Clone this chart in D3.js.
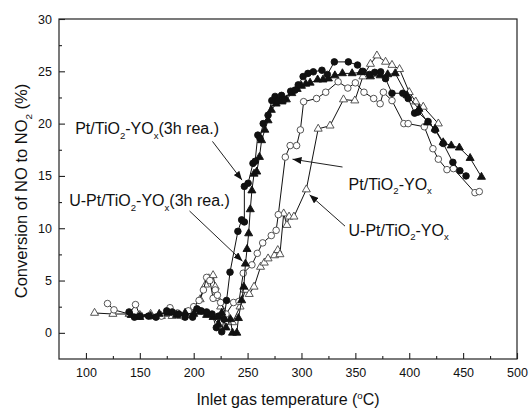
<!DOCTYPE html>
<html>
<head>
<meta charset="utf-8">
<script src="https://cdn.jsdelivr.net/npm/d3@7"></script>
<style>
  html, body { margin: 0; padding: 0; background: #fff; }
  svg { display: block; font-family: Arial, "Liberation Sans", sans-serif; }
</style>
</head>
<body>
<svg id="chart" width="530" height="411"></svg>
<script>
// =========================================
// NO -> NO2 CONVERSION vs INLET TEMPERATURE
// =========================================

// [temperature °C, conversion %]
const ptRea = [ // Pt/TiO2-YOx (3h rea.) – filled circles
  [140, 2.0], [145, 1.5], [150, 1.6], [158, 1.6], [165, 1.5], [175, 2.1], [180, 2.0],
  [186, 1.8], [192, 1.5], [199, 1.5], [203, 2.3], [207, 2.1], [212, 2.0], [217, 1.8],
  [221, 0.5], [223, 1.6], [226, 0.1], [228, 1.3], [230.5, 3.1], [233.7, 5.8], [241, 9.7],
  [244.5, 10.8], [247, 10.6], [247, 14.0], [250.5, 14.3], [255, 16.2], [257, 16.4],
  [259.5, 18.9], [261.5, 18.6], [264.5, 20.0], [269, 20.8], [272.5, 22.2], [275.5, 22.6],
  [278, 22.2], [281.5, 22.7], [284, 22.3], [290, 23.1], [294, 23.2], [297, 23.7],
  [301.5, 24.5], [306, 24.8], [311, 24.95], [319, 25.1], [324, 24.7], [330.5, 25.9],
  [343.5, 25.9], [352, 25.6], [357, 25.0], [363, 24.7], [368, 24.9], [373.5, 24.95],
  [378, 24.3], [384, 22.9], [394, 22.9], [399, 22.4], [405, 21.0], [408, 21.1],
  [417.5, 20.2], [424, 19.4], [431.5, 18.1], [440.5, 16.3], [447, 15.5], [452.7, 15.0]
];

const uptRea = [ // U-Pt/TiO2-YOx (3h rea.) – filled triangles
  [142, 1.7], [150, 1.5], [160, 1.6], [168, 1.8], [176, 1.9], [184, 1.7], [192, 1.9],
  [200, 1.8], [206, 2.0], [212, 1.7], [218, 1.5], [223, 0.8], [226, 1.9], [230, 0.5],
  [234, 1.3], [236, 0.0], [240, 0.0], [241.5, 1.4], [244.5, 3.1], [246.5, 4.4],
  [248, 6.6], [249.5, 8.0], [251, 9.5], [252.5, 11.8], [254, 13.6], [256, 15.2],
  [258.5, 15.4], [261, 16.8], [263, 18.4], [266, 19.4], [269, 20.3], [272, 21.3],
  [276.5, 21.9], [282, 22.1], [286, 22.3], [291, 22.9], [296, 23.3], [300, 23.6],
  [304, 23.8], [308, 23.9], [315, 24.2], [320, 24.2], [325, 24.3], [331, 24.6],
  [338, 24.8], [347, 24.8], [355, 24.9], [364, 24.5], [373, 24.6], [380, 24.7],
  [387, 24.8], [398, 22.7], [409, 21.4], [417, 20.1], [424, 19.5], [431.5, 18.2],
  [439, 17.9], [446.5, 17.7], [456.5, 16.7], [467, 14.9]
];

const pt = [ // Pt/TiO2-YOx – open circles
  [120, 2.8], [126, 2.2], [140, 1.8], [146, 2.7], [150, 1.7], [160, 1.6], [170, 1.6],
  [178, 2.4], [185, 1.9], [190, 1.6], [195, 2.1], [200, 2.5], [205, 3.1], [209, 4.1],
  [212, 5.3], [215, 5.0], [218, 3.3], [220, 4.1], [222, 3.6], [225, 2.9], [230, 1.8],
  [237, 2.9], [242, 3.0], [246, 5.7], [254, 6.5], [259, 7.6], [264, 8.6], [272, 9.3],
  [276.5, 9.8], [278.5, 11.3], [285, 16.8], [289.5, 17.9], [295.5, 17.9], [299, 19.4],
  [302, 22.1], [314, 22.4], [322.5, 23.0], [334, 24.0], [343, 23.4], [350, 23.9],
  [358, 23.0], [367, 22.4], [373, 21.9], [376, 23.0], [384, 22.2], [395, 20.0],
  [399, 20.0], [414, 19.7], [422, 17.6], [427, 16.6], [435, 15.6], [441, 15.7],
  [461, 13.4], [465, 13.5]
];

const upt = [ // U-Pt/TiO2-YOx – open triangles
  [108, 1.9], [125, 1.8], [140, 1.8], [150, 1.7], [160, 1.8], [170, 1.6], [180, 1.6],
  [188, 1.6], [195, 2.0], [200, 2.4], [206, 3.2], [211, 4.6], [214, 5.2], [218, 5.5],
  [220, 4.4], [222, 3.3], [225, 2.5], [230, 1.5], [236, 1.0], [243, 2.5], [248, 4.1],
  [251.5, 3.7], [256, 4.4], [262, 6.3], [265.5, 6.7], [269, 7.1], [275, 7.4], [278, 7.9],
  [280, 7.5], [283.5, 11.4], [286.5, 10.3], [288.5, 11.1], [293, 11.1], [304.5, 13.7],
  [315.5, 19.5], [326.5, 19.8], [339, 22.3], [349.5, 22.2], [357, 24.5], [364, 25.7],
  [370, 26.5], [378, 25.9], [384, 25.6], [391, 25.2], [400, 23.0], [406, 22.1],
  [413, 21.6], [427, 20.0]
];

const xTicks = [100, 150, 200, 250, 300, 350, 400, 450, 500];
const xMinorTicks = [125, 175, 225, 275, 325, 375, 425, 475];
const yTicks = [0, 5, 10, 15, 20, 25, 30];
const yMinorTicks = [2.5, 7.5, 12.5, 17.5, 22.5, 27.5];

// label pieces: [text, "sub" | "sup" | undefined]
const labelPtRea = [["Pt/TiO"], ["2", "sub"], ["-YO"], ["x", "sub"], ["(3h rea.)"]];
const labelUptRea = [["U-Pt/TiO"], ["2", "sub"], ["-YO"], ["x", "sub"], ["(3h rea.)"]];
const labelPt = [["Pt/TiO"], ["2", "sub"], ["-YO"], ["x", "sub"]];
const labelUpt = [["U-Pt/TiO"], ["2", "sub"], ["-YO"], ["x", "sub"]];
const xTitle = [["Inlet gas temperature ("], ["o", "sup"], ["C)"]];
const yTitle = [["Conversion of NO to NO"], ["2", "sub"], [" (%)"]];


// =========================
// HELPERS
// =========================

function richText(g, x, y, parts, size) {
  const text = g.append("text")
    .attr("x", x)
    .attr("y", y)
    .style("font-size", size + "px")
    .style("fill", "#111");

  let back = 0; // offset to undo after a sub/sup piece
  parts.forEach(([str, kind]) => {
    const span = text.append("tspan").text(str);
    if (!kind) {
      if (back) span.attr("dy", back);
      back = 0;
      return;
    }
    const shift = kind === "sub" ? size * 0.3 : -size * 0.4;
    span.attr("dy", shift + back).style("font-size", (size * 0.6) + "px");
    back = -shift;
  });
  return text;
}


// =========================
// AXES & FRAME
// =========================

function drawAxes(svg, x, y) {
  const [x0, x1] = x.range();
  const [y0, y1] = y.range();

  svg.append("rect")
    .attr("x", x0)
    .attr("y", y1)
    .attr("width", x1 - x0)
    .attr("height", y0 - y1)
    .attr("fill", "none")
    .attr("stroke", "#222")
    .attr("stroke-width", 1.2);

  svg.append("g")
    .attr("transform", `translate(0,${y0})`)
    .call(d3.axisBottom(x).tickValues(xTicks).tickSizeInner(-6).tickSizeOuter(0).tickPadding(9));

  svg.append("g")
    .attr("class", "minor")
    .attr("transform", `translate(0,${y0})`)
    .call(d3.axisBottom(x).tickValues(xMinorTicks).tickSizeInner(-3).tickSizeOuter(0));

  svg.append("g")
    .attr("transform", `translate(${x0},0)`)
    .call(d3.axisLeft(y).tickValues(yTicks).tickSizeInner(-6).tickSizeOuter(0).tickPadding(7));

  svg.append("g")
    .attr("class", "minor")
    .attr("transform", `translate(${x0},0)`)
    .call(d3.axisLeft(y).tickValues(yMinorTicks).tickSizeInner(-3).tickSizeOuter(0));

  // minor ticks carry no labels
  svg.selectAll(".minor .tick text").remove();
  svg.selectAll(".domain").remove();
  svg.selectAll(".tick line").attr("stroke", "#222").attr("stroke-width", 1.1);
  svg.selectAll(".tick text")
    .style("font-size", "12.5px")
    .style("font-family", "Arial, 'Liberation Sans', sans-serif")
    .attr("fill", "#111");

  // titles
  richText(svg, (x0 + x1) / 2, 405, xTitle, 16).attr("text-anchor", "middle");

  const yt = svg.append("g").attr("transform", `translate(27,${(y0 + y1) / 2 + 2}) rotate(-90)`);
  richText(yt, 0, 0, yTitle, 16.5).attr("text-anchor", "middle");
}


// =========================
// SERIES
// =========================

function drawSeries(svg, x, y, data, shape, filled) {
  const line = d3.line().x(d => x(d[0])).y(d => y(d[1]));

  svg.append("path")
    .datum(data)
    .attr("d", line)
    .attr("fill", "none")
    .attr("stroke", "#111")
    .attr("stroke-width", 1);

  const symbol = d3.symbol()
    .type(shape === "circle" ? d3.symbolCircle : d3.symbolTriangle)
    .size(shape === "circle" ? 34 : 28);

  svg.append("g")
    .selectAll("path")
    .data(data)
    .enter()
    .append("path")
    .attr("d", symbol)
    .attr("transform", d => `translate(${x(d[0])},${y(d[1])})`)
    .attr("fill", filled ? "#111" : "#fff")
    .attr("stroke", filled ? "#111" : "#444")
    .attr("stroke-width", 0.9);
}


// =========================
// ANNOTATIONS
// =========================

function drawAnnotations(svg, x, y) {
  const defs = svg.append("defs");
  defs.append("marker")
    .attr("id", "arrow")
    .attr("markerUnits", "userSpaceOnUse")
    .attr("markerWidth", 9)
    .attr("markerHeight", 7)
    .attr("refX", 9)
    .attr("refY", 3.5)
    .attr("orient", "auto")
    .append("path")
    .attr("d", "M0,0 L9,3.5 L0,7 Z")
    .attr("fill", "#111");

  const notes = [
    { label: labelPtRea, tx: 90, ty: 19.0, from: [217.4, 18.3], to: [244.8, 14.6] },
    { label: labelUptRea, tx: 84.4, ty: 12.1, from: [196.1, 11.65], to: [245.3, 6.85] },
    { label: labelPt, tx: 343.7, ty: 13.7, from: [338.1, 15.85], to: [291.7, 16.6] },
    { label: labelUpt, tx: 343.7, ty: 9.3, from: [340.4, 10.2], to: [307.5, 13.2] }
  ];

  notes.forEach(n => {
    richText(svg, x(n.tx), y(n.ty), n.label, 16);
    svg.append("line")
      .attr("x1", x(n.from[0]))
      .attr("y1", y(n.from[1]))
      .attr("x2", x(n.to[0]))
      .attr("y2", y(n.to[1]))
      .attr("stroke", "#222")
      .attr("stroke-width", 1)
      .attr("marker-end", "url(#arrow)");
  });
}


// =========================
// MAIN
// =========================

function drawChart() {
  const svg = d3.select("#chart");

  const x = d3.scaleLinear().domain([75, 500]).range([59, 517]);
  const y = d3.scaleLinear().domain([-2.5, 30]).range([359, 19]);

  drawAxes(svg, x, y);

  drawSeries(svg, x, y, upt, "triangle", false);
  drawSeries(svg, x, y, pt, "circle", false);
  drawSeries(svg, x, y, uptRea, "triangle", true);
  drawSeries(svg, x, y, ptRea, "circle", true);

  drawAnnotations(svg, x, y);
}

drawChart();
</script>
</body>
</html>
